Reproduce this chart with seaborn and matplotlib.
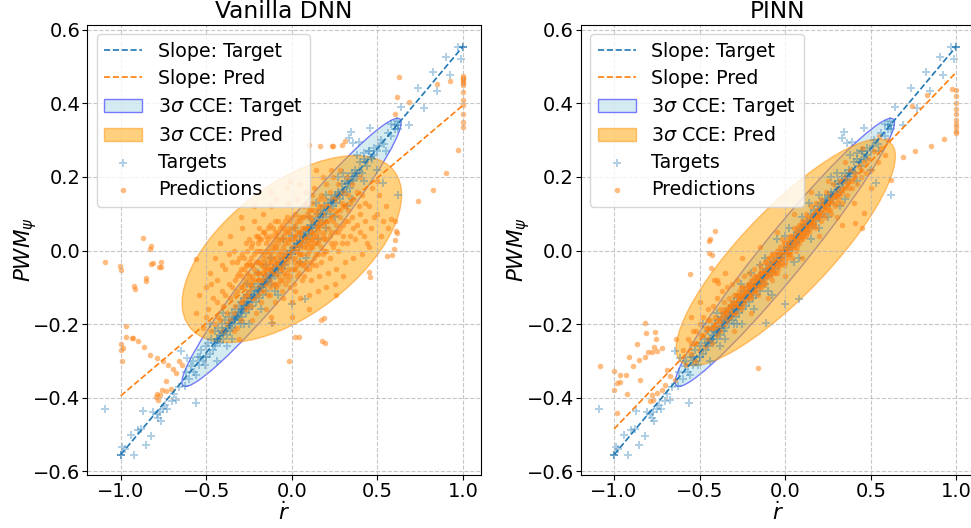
import numpy as np
import matplotlib
matplotlib.use("Agg")
import matplotlib.pyplot as plt
import seaborn as sns
from matplotlib.patches import Ellipse

# ---------------- data ----------------
titles = ["Vanilla DNN", "PINN"]
x_label = r"$\dot{r}$"
y_label = r"$PWM_\psi$"
x_ticks = [-1.0, -0.5, 0.0, 0.5, 1.0]
y_ticks = [-0.6, -0.4, -0.2, 0.0, 0.2, 0.4, 0.6]

# slope lines (y = slope * x over x in [-1, 1])
slope_x = [-1.0, 1.0]
slope_target = 0.555
slope_pred = [0.395, 0.485]          # DNN, PINN

# 3-sigma confidence ellipses: centre and 3-sigma extent matrix (sxx, syy, sxy)
ell_target = [-0.002, -0.005, 0.410, 0.1327, 0.2256]
ell_pred_dnn = [0.000, 0.004, 0.411, 0.0645, 0.094]
ell_pred_pinn = [0.003, -0.005, 0.410, 0.0949, 0.167]

# targets (same for both models)
targets = np.array([
    [-1.09, -0.43], [-1.0, -0.555], [-1.0, -0.555], [-1.0, -0.555], [-0.99, -0.534], [-0.975, -0.54],
    [-0.94, -0.50], [-0.92, -0.555], [-0.90, -0.489], [-0.88, -0.485], [-0.87, -0.435], [-0.854, -0.529],
    [-0.82, -0.503], [-0.81, -0.44], [-0.79, -0.445], [-0.78, -0.455], [-0.77, -0.44], [-0.766, -0.463],
    [-0.75, -0.43], [-0.74, -0.42], [-0.727, -0.431], [-0.70, -0.41], [-0.69, -0.39], [-0.675, -0.405],
    [-0.66, -0.37], [-0.645, -0.274], [-0.626, -0.368], [-0.56, -0.415],
    [1.0, 0.553], [1.0, 0.553], [1.0, 0.553], [0.97, 0.553], [0.988, 0.521], [0.902, 0.527],
    [0.922, 0.477], [0.822, 0.485], [0.848, 0.434], [0.734, 0.443], [0.77, 0.387], [0.639, 0.391],
    [0.686, 0.34], [0.614, 0.351], [0.345, 0.323], [0.331, 0.307], [0.36, 0.291], [0.39, 0.295],
    [0.458, 0.334], [0.42, 0.265], [0.45, 0.27], [0.48, 0.26], [0.532, 0.183], [0.618, 0.15],
    [0.078, -0.131], [0.0, -0.146], [-0.114, -0.196], [0.6, 0.33], [0.58, 0.345], [0.62, 0.34],
    [-0.538, -0.288], [-0.499, -0.288], [-0.614, -0.292], [-0.587, -0.315], [-0.558, -0.338], [-0.509, -0.311],
    [-0.62, -0.33], [-0.60, -0.35], [-0.58, -0.30], [-0.57, -0.33], [-0.55, -0.29], [-0.54, -0.31],
    [-0.53, -0.27], [-0.52, -0.30], [-0.50, -0.26], [-0.50, -0.29], [-0.49, -0.25], [-0.48, -0.28],
    [-0.47, -0.24], [-0.46, -0.27], [-0.45, -0.22], [-0.45, -0.26], [-0.44, -0.24], [-0.43, -0.21],
    [-0.42, -0.25], [-0.42, -0.23], [-0.41, -0.20], [-0.40, -0.24], [-0.40, -0.22], [-0.39, -0.19],
    [-0.38, -0.23], [-0.38, -0.21], [-0.37, -0.18], [-0.36, -0.22], [-0.36, -0.20], [-0.35, -0.17],
    [-0.35, -0.21], [-0.34, -0.19], [-0.33, -0.16], [-0.33, -0.20], [-0.32, -0.18], [-0.31, -0.15],
    [-0.31, -0.19], [-0.30, -0.17], [-0.30, -0.14], [-0.29, -0.18], [-0.28, -0.15], [-0.28, -0.13],
    [-0.27, -0.17], [-0.26, -0.14], [-0.26, -0.12], [-0.25, -0.16], [-0.24, -0.13], [-0.24, -0.11],
    [-0.23, -0.15], [-0.22, -0.12], [-0.22, -0.10], [-0.21, -0.14], [-0.20, -0.11], [-0.20, -0.09],
    [-0.19, -0.13], [-0.18, -0.10], [-0.17, -0.08], [-0.17, -0.12], [-0.16, -0.09], [-0.15, -0.07],
    [-0.15, -0.11], [-0.14, -0.08], [-0.13, -0.06], [-0.12, -0.09], [-0.11, -0.05], [-0.10, -0.07],
    [-0.09, -0.04], [-0.08, -0.06], [-0.07, -0.03], [-0.06, -0.05], [-0.05, -0.02], [-0.04, -0.04],
    [-0.03, -0.01], [-0.02, -0.02], [-0.01, 0.00], [0.00, -0.01], [0.01, 0.01], [0.02, 0.00],
    [0.03, 0.02], [0.04, 0.01], [0.05, 0.04], [0.06, 0.02], [0.07, 0.05], [0.08, 0.03],
    [0.09, 0.06], [0.10, 0.04], [0.11, 0.07], [0.12, 0.05], [0.13, 0.08], [0.14, 0.06],
    [0.15, 0.10], [0.16, 0.07], [0.17, 0.11], [0.18, 0.08], [0.19, 0.12], [0.20, 0.09],
    [0.21, 0.13], [0.22, 0.10], [0.23, 0.14], [0.24, 0.12], [0.25, 0.15], [0.26, 0.13],
    [0.27, 0.16], [0.28, 0.14], [0.29, 0.18], [0.30, 0.15], [0.31, 0.19], [0.32, 0.16],
    [0.33, 0.20], [0.34, 0.17], [0.35, 0.21], [0.36, 0.19], [0.37, 0.22], [0.38, 0.20],
    [0.40, 0.24], [0.41, 0.21], [0.42, 0.25], [0.44, 0.23], [0.45, 0.27], [0.47, 0.25],
    [0.48, 0.28], [0.50, 0.27], [0.52, 0.30], [0.54, 0.29], [0.56, 0.32], [0.58, 0.31],
    [0.60, 0.34], [0.62, 0.33],
    [-0.40, -0.17], [-0.30, -0.20], [-0.25, -0.20], [-0.20, -0.06], [-0.10, -0.11], [-0.05, 0.03],
    [0.05, -0.03], [0.10, 0.09], [0.15, 0.03], [0.20, 0.15], [0.25, 0.09], [0.30, 0.21],
    [0.35, 0.14], [0.00, 0.04], [-0.15, -0.04], [-0.35, -0.24],
    [-0.45, -0.25], [-0.43, -0.24], [-0.39, -0.22], [-0.37, -0.20], [-0.34, -0.185], [-0.32, -0.175],
    [-0.29, -0.16], [-0.27, -0.15], [-0.23, -0.125], [-0.21, -0.115], [-0.19, -0.105], [-0.16, -0.088],
    [-0.14, -0.078], [-0.12, -0.066], [-0.09, -0.05], [-0.06, -0.034], [0.03, 0.017], [0.07, 0.039],
    [0.12, 0.067], [0.16, 0.09], [0.19, 0.105], [0.23, 0.128], [0.26, 0.145], [0.29, 0.16],
    [0.33, 0.183], [0.36, 0.20], [0.39, 0.217], [0.43, 0.24], [0.46, 0.255], [0.51, 0.283],
    [-0.48, -0.20], [-0.44, -0.30], [-0.38, -0.26], [-0.28, -0.20], [-0.26, -0.09], [-0.18, -0.16],
    [-0.12, -0.02], [-0.08, -0.12], [0.02, 0.06], [0.08, -0.02], [0.14, 0.13], [0.20, 0.06],
    [0.27, 0.20], [0.32, 0.12], [0.38, 0.26], [0.42, 0.19], [0.50, 0.22], [0.55, 0.27],
    [-0.44, -0.245], [-0.41, -0.225], [-0.40, -0.225], [-0.37, -0.205], [-0.35, -0.195], [-0.33, -0.185],
    [-0.31, -0.17], [-0.30, -0.165], [-0.28, -0.155], [-0.26, -0.145], [-0.25, -0.14], [-0.24, -0.13],
    [-0.22, -0.125], [-0.20, -0.11], [-0.18, -0.10], [-0.17, -0.095], [-0.15, -0.085], [-0.13, -0.075],
    [-0.11, -0.06], [-0.10, -0.055], [-0.08, -0.045], [-0.05, -0.03], [-0.03, -0.02], [0.00, 0.00],
    [0.02, 0.01], [0.05, 0.025], [0.08, 0.045], [0.10, 0.055], [0.13, 0.07], [0.15, 0.085],
    [0.18, 0.10], [0.21, 0.115], [0.24, 0.135], [0.27, 0.15], [0.30, 0.165], [0.32, 0.18],
    [0.35, 0.195], [0.38, 0.21],
])

# predictions of the vanilla DNN
pred_dnn = np.array([
    [-0.56, -0.17], [-0.54, -0.12], [-0.52, -0.21], [-0.50, -0.10], [-0.49, -0.16], [-0.48, -0.06],
    [-0.47, -0.22], [-0.46, -0.13], [-0.44, -0.08], [-0.43, -0.18], [-0.45, -0.02], [-0.41, -0.11],
    [-0.40, -0.15], [-0.39, -0.05], [-0.38, -0.20], [-0.42, 0.02], [-0.37, -0.09], [-0.36, -0.13],
    [-0.35, -0.03], [-0.34, -0.17], [-0.33, -0.08], [-0.36, 0.04], [-0.32, -0.11], [-0.34, -0.22],
    [-0.31, -0.06], [-0.30, -0.14], [-0.29, -0.01], [-0.28, -0.09], [-0.30, -0.19], [-0.27, -0.04],
    [-0.29, 0.06], [-0.26, -0.12], [-0.31, -0.24], [-0.25, -0.07], [-0.24, -0.02], [-0.23, -0.10],
    [-0.25, 0.03], [-0.22, -0.05], [-0.24, -0.15], [-0.21, 0.00], [-0.23, -0.19], [-0.22, 0.08],
    [-0.26, -0.04], [-0.20, -0.08], [-0.19, -0.03], [-0.18, -0.11], [-0.20, 0.02], [-0.17, -0.06],
    [-0.19, 0.06], [-0.18, -0.14], [-0.16, -0.01], [-0.21, -0.17], [-0.17, 0.10], [-0.16, -0.09],
    [-0.15, -0.05], [-0.14, 0.00], [-0.13, -0.08], [-0.15, 0.04], [-0.12, -0.03], [-0.14, -0.12],
    [-0.13, 0.07], [-0.11, -0.06], [-0.15, -0.16], [-0.12, 0.12], [-0.11, 0.02], [-0.14, -0.02],
    [-0.10, -0.04], [-0.09, 0.01], [-0.08, -0.07], [-0.10, 0.05], [-0.07, -0.02], [-0.09, -0.10],
    [-0.08, 0.08], [-0.06, -0.05], [-0.10, -0.14], [-0.07, 0.03], [-0.09, 0.14], [-0.06, -0.11],
    [-0.08, -0.01], [-0.05, -0.03], [-0.04, 0.02], [-0.03, -0.06], [-0.05, 0.06], [-0.02, -0.01],
    [-0.04, -0.09], [-0.03, 0.09], [-0.01, 0.03], [-0.05, -0.13], [-0.02, 0.13], [-0.04, 0.00],
    [-0.01, -0.07], [-0.03, 0.17], [0.00, -0.02], [0.01, 0.03], [0.02, -0.05], [0.00, 0.06],
    [0.03, 0.00], [0.01, -0.09], [0.02, 0.10], [0.04, -0.03], [0.00, -0.14], [0.03, 0.14],
    [0.01, 0.01], [0.04, 0.05], [0.02, -0.11], [-0.01, 0.19], [0.05, -0.01], [0.06, 0.04],
    [0.07, -0.04], [0.05, 0.08], [0.08, 0.01], [0.06, -0.08], [0.07, 0.12], [0.09, -0.01],
    [0.05, -0.13], [0.08, 0.16], [0.06, 0.02], [0.09, 0.06], [0.10, 0.00], [0.11, 0.05],
    [0.12, -0.04], [0.10, 0.09], [0.13, 0.02], [0.11, -0.08], [0.12, 0.13], [0.14, -0.01],
    [0.10, -0.12], [0.13, 0.17], [0.11, 0.03], [0.14, 0.07], [0.15, 0.02], [0.16, 0.07],
    [0.17, -0.03], [0.15, 0.11], [0.18, 0.04], [0.16, -0.07], [0.17, 0.15], [0.19, 0.00],
    [0.15, -0.11], [0.18, 0.20], [0.20, 0.03], [0.21, 0.08], [0.22, -0.02], [0.20, 0.12],
    [0.23, 0.05], [0.21, -0.06], [0.22, 0.16], [0.24, 0.01], [0.20, -0.10], [0.23, 0.22],
    [0.25, 0.05], [0.26, 0.10], [0.27, 0.00], [0.25, 0.14], [0.28, 0.06], [0.26, -0.05],
    [0.27, 0.18], [0.29, 0.02], [0.25, -0.09], [0.30, 0.07], [0.31, 0.12], [0.32, 0.02],
    [0.30, 0.16], [0.33, 0.08], [0.31, -0.03], [0.32, 0.20], [0.34, 0.04], [0.30, -0.07],
    [0.35, 0.09], [0.36, 0.14], [0.37, 0.03], [0.35, 0.18], [0.38, 0.07], [0.36, -0.02],
    [0.39, 0.12], [0.40, 0.10], [0.41, 0.15], [0.42, 0.04], [0.40, 0.20], [0.43, 0.08],
    [0.41, -0.01], [0.45, 0.12], [0.46, 0.06], [0.47, 0.17], [0.45, 0.01], [0.50, 0.10],
    [0.51, 0.15], [0.52, 0.04], [0.50, 0.19], [0.55, 0.12], [0.56, 0.06],
    [-0.30, -0.10], [-0.28, -0.05], [-0.27, -0.12], [-0.26, 0.00], [-0.25, -0.09], [-0.24, -0.04],
    [-0.23, 0.02], [-0.23, -0.07], [-0.22, -0.13], [-0.21, -0.03], [-0.20, -0.06], [-0.20, 0.04],
    [-0.19, -0.10], [-0.19, 0.00], [-0.18, -0.04], [-0.18, 0.03], [-0.17, -0.08], [-0.17, -0.02],
    [-0.16, 0.05], [-0.16, -0.05], [-0.15, -0.09], [-0.15, 0.00], [-0.14, -0.05], [-0.14, 0.03],
    [-0.13, -0.03], [-0.13, -0.10], [-0.12, 0.01], [-0.12, -0.06], [-0.11, 0.06], [-0.11, -0.02],
    [-0.10, -0.09], [-0.10, 0.01], [-0.09, -0.03], [-0.09, 0.04], [-0.08, -0.04], [-0.08, 0.02],
    [-0.07, -0.08], [-0.07, 0.06], [-0.06, -0.01], [-0.06, 0.03], [-0.05, -0.06], [-0.05, 0.01],
    [-0.04, 0.05], [-0.04, -0.02], [-0.03, -0.03], [-0.03, 0.03], [-0.02, -0.08], [-0.02, 0.06],
    [-0.01, -0.01], [-0.01, 0.08], [0.00, -0.05], [0.00, 0.03], [0.01, -0.03], [0.01, 0.06],
    [0.02, 0.00], [0.02, 0.04], [0.03, -0.07], [0.03, 0.08], [0.04, 0.02], [0.04, -0.01],
    [0.05, 0.05], [0.05, 0.01], [0.06, -0.04], [0.06, 0.09], [0.07, 0.01], [0.07, 0.06],
    [0.08, -0.03], [0.08, 0.04], [0.09, 0.10], [0.09, 0.02], [0.10, -0.05], [0.10, 0.06],
    [0.11, 0.01], [0.11, 0.11], [0.12, 0.03], [0.12, 0.08], [0.13, -0.02], [0.13, 0.05],
    [0.14, 0.10], [0.14, 0.02], [0.15, 0.06], [0.16, 0.12], [0.16, 0.03], [0.17, 0.08],
    [0.18, -0.01], [0.18, 0.10], [0.19, 0.05], [0.20, 0.08], [0.21, 0.12], [0.22, 0.04],
    [0.23, 0.09], [0.24, 0.14], [0.25, 0.02], [0.26, 0.07], [0.28, 0.11], [0.30, 0.04],
    [-0.45, -0.20], [-0.42, -0.19], [-0.40, -0.22], [-0.38, -0.17], [-0.36, -0.19], [-0.33, -0.15],
    [-0.32, -0.21], [-0.29, -0.14], [-0.27, -0.16], [0.20, 0.18], [0.24, 0.20], [0.27, 0.15],
    [0.30, 0.12], [0.33, 0.15], [0.28, 0.22],
    [-0.33, -0.12], [-0.32, -0.07], [-0.31, -0.02], [-0.30, -0.05], [-0.29, -0.10], [-0.29, -0.07],
    [-0.28, -0.02], [-0.28, -0.13], [-0.27, -0.08], [-0.27, 0.02], [-0.26, -0.06], [-0.26, -0.15],
    [-0.25, -0.03], [-0.25, -0.11], [-0.24, -0.08], [-0.24, 0.01], [-0.23, -0.04], [-0.23, -0.13],
    [-0.22, -0.01], [-0.22, -0.08], [-0.21, -0.06], [-0.21, 0.04], [-0.20, -0.12], [-0.20, -0.03],
    [-0.19, -0.06], [-0.19, 0.03], [-0.18, -0.08], [-0.18, 0.00], [-0.17, -0.04], [-0.17, 0.05],
    [-0.16, -0.11], [-0.16, -0.03], [-0.15, -0.07], [-0.15, 0.02], [-0.14, -0.04], [-0.14, 0.06],
    [-0.13, -0.01], [-0.13, -0.12], [-0.12, -0.05], [-0.12, 0.04], [-0.11, -0.09], [-0.11, 0.00],
    [-0.10, -0.02], [-0.10, 0.08], [-0.09, -0.06], [-0.09, 0.03], [-0.08, -0.09], [-0.08, 0.05],
    [-0.07, -0.05], [-0.07, 0.00], [-0.06, -0.08], [-0.06, 0.07], [-0.05, -0.04], [-0.05, 0.04],
    [-0.04, -0.07], [-0.04, 0.08], [-0.03, -0.02], [-0.03, 0.05], [-0.02, -0.05], [-0.02, 0.02],
    [-0.01, -0.10], [-0.01, 0.05], [0.00, 0.01], [0.00, 0.09], [0.01, -0.05], [0.01, 0.04],
    [0.02, -0.02], [0.02, 0.07], [0.03, -0.04], [0.03, 0.05], [0.04, -0.06], [0.04, 0.09],
    [0.05, -0.03], [0.05, 0.03], [0.06, 0.06], [0.06, -0.01], [0.07, -0.07], [0.07, 0.09],
    [0.08, 0.06], [0.08, -0.05], [0.09, 0.03], [0.09, 0.13], [0.10, 0.02], [0.10, 0.11],
    [0.11, -0.03], [0.11, 0.09], [0.12, 0.01], [0.12, 0.15], [0.13, 0.04], [0.13, 0.11],
    [0.14, -0.04], [0.14, 0.04], [0.15, 0.08], [0.15, -0.01], [0.16, 0.05], [0.16, 0.14],
    [0.17, 0.01], [0.17, 0.12], [0.18, 0.07], [0.19, 0.03], [0.19, 0.14], [0.20, 0.00],
    [0.21, 0.06], [0.22, 0.11], [0.23, 0.02], [0.24, 0.08], [0.25, 0.11], [0.27, 0.05],
    [0.28, 0.09], [0.29, 0.13], [0.31, 0.08], [0.33, 0.11],
    [-0.50, -0.18], [-0.47, -0.09], [-0.44, -0.14], [-0.41, -0.04], [-0.39, -0.12], [-0.37, -0.01],
    [-0.35, -0.10], [-0.34, 0.00], [-0.32, -0.03], [0.34, 0.13], [0.36, 0.06], [0.38, 0.16],
    [0.40, 0.05], [0.43, 0.13], [0.44, 0.02], [0.48, 0.09], [0.53, 0.08], [-0.30, 0.09],
    [-0.22, 0.12], [-0.12, 0.16], [0.05, 0.18], [0.14, 0.22], [0.00, -0.18], [-0.12, -0.18],
    [0.10, -0.16], [0.26, -0.12],
    [-0.87, 0.034], [-0.827, 0.004], [-0.825, 0.011], [-1.09, -0.03], [-1.0, -0.052], [-1.004, -0.043],
    [-0.81, -0.034], [-0.82, -0.037], [-0.766, -0.032], [-0.776, -0.046], [-0.766, -0.044], [-0.854, -0.082],
    [-0.854, -0.074], [-0.918, -0.105], [-0.92, -0.096], [-0.558, -0.023], [-0.971, -0.206], [-0.971, -0.236],
    [-0.934, -0.238], [-0.928, -0.238], [-0.90, -0.245], [-1.0, -0.254], [-1.0, -0.27], [-0.987, -0.265],
    [-0.99, -0.30], [-0.864, -0.261], [-0.827, -0.283], [-0.786, -0.292], [-0.753, -0.30], [-0.723, -0.312],
    [-0.694, -0.322], [-0.661, -0.299], [-0.64, -0.312], [-0.737, -0.354], [-0.675, -0.333], [-0.792, -0.397],
    [-0.77, -0.392], [-0.76, -0.38], [-0.737, -0.382], [-0.706, -0.377], [-0.782, -0.405], [-0.785, -0.39],
    [0.624, 0.471], [0.617, 0.418], [0.686, 0.405], [0.60, 0.371], [0.243, 0.283], [0.312, 0.298],
    [0.848, 0.452], [0.922, 0.462], [1.0, 0.475], [1.0, 0.47], [1.0, 0.465], [1.0, 0.46],
    [1.0, 0.455], [1.0, 0.45], [1.0, 0.43], [1.0, 0.41], [1.0, 0.395], [1.0, 0.37],
    [1.0, 0.35], [1.0, 0.335], [0.968, 0.274], [0.902, 0.21], [0.822, 0.165], [0.734, 0.135],
    [0.604, 0.079], [0.608, 0.052], [0.604, 0.029], [0.594, 0.005], [0.58, 0.086], [0.614, 0.047],
    [0.556, -0.016], [0.585, -0.012], [0.452, -0.057], [0.458, -0.071], [0.185, -0.184], [0.168, -0.188],
    [0.175, -0.247], [0.195, -0.25], [0.019, -0.235], [0.043, -0.234], [-0.016, -0.30], [-0.117, -0.196],
    [0.103, 0.287], [0.165, 0.283], [0.237, 0.285], [0.292, 0.286],
])

# predictions of the PINN
pred_pinn = np.array([
    [-0.60, -0.27], [-0.58, -0.31], [-0.57, -0.24], [-0.55, -0.28], [-0.54, -0.22], [-0.53, -0.30],
    [-0.52, -0.25], [-0.50, -0.20], [-0.50, -0.27], [-0.49, -0.23], [-0.48, -0.18], [-0.47, -0.26],
    [-0.46, -0.21], [-0.45, -0.16], [-0.45, -0.24], [-0.44, -0.19], [-0.43, -0.25], [-0.42, -0.15],
    [-0.42, -0.21], [-0.41, -0.18], [-0.40, -0.23], [-0.40, -0.13], [-0.39, -0.19], [-0.38, -0.16],
    [-0.38, -0.22], [-0.37, -0.11], [-0.36, -0.18], [-0.36, -0.14], [-0.35, -0.20], [-0.34, -0.16],
    [-0.34, -0.10], [-0.33, -0.13], [-0.32, -0.18], [-0.32, -0.15], [-0.31, -0.09], [-0.30, -0.14],
    [-0.30, -0.17], [-0.29, -0.12], [-0.28, -0.15], [-0.28, -0.08], [-0.27, -0.13], [-0.26, -0.16],
    [-0.26, -0.10], [-0.25, -0.12], [-0.24, -0.07], [-0.24, -0.14], [-0.23, -0.11], [-0.22, -0.09],
    [-0.22, -0.13], [-0.21, -0.06], [-0.20, -0.10], [-0.20, -0.12], [-0.19, -0.08], [-0.18, -0.11],
    [-0.18, -0.05], [-0.17, -0.09], [-0.16, -0.07], [-0.16, -0.12], [-0.15, -0.04], [-0.15, -0.08],
    [-0.14, -0.10], [-0.13, -0.06], [-0.12, -0.03], [-0.12, -0.08], [-0.11, -0.05], [-0.10, -0.07],
    [-0.10, -0.02], [-0.09, -0.05], [-0.08, -0.08], [-0.08, -0.01], [-0.07, -0.04], [-0.06, -0.02],
    [-0.06, -0.06], [-0.05, 0.00], [-0.04, -0.03], [-0.04, -0.05], [-0.03, 0.01], [-0.02, -0.02],
    [-0.02, 0.03], [-0.01, -0.04], [0.00, 0.00], [0.00, 0.02], [0.01, -0.02], [0.02, 0.02],
    [0.03, 0.04], [0.03, -0.01], [0.04, 0.01], [0.05, 0.03], [0.05, 0.06], [0.06, 0.00],
    [0.07, 0.04], [0.08, 0.02], [0.08, 0.07], [0.09, 0.05], [0.10, 0.03], [0.10, 0.08],
    [0.11, 0.06], [0.12, 0.04], [0.12, 0.10], [0.13, 0.07], [0.14, 0.05], [0.15, 0.09],
    [0.15, 0.12], [0.16, 0.07], [0.17, 0.10], [0.18, 0.06], [0.18, 0.13], [0.19, 0.09],
    [0.20, 0.11], [0.21, 0.08], [0.21, 0.14], [0.22, 0.12], [0.23, 0.09], [0.24, 0.13],
    [0.24, 0.16], [0.25, 0.11], [0.26, 0.14], [0.27, 0.10], [0.28, 0.15], [0.28, 0.18],
    [0.29, 0.12], [0.30, 0.16], [0.31, 0.14], [0.32, 0.19], [0.33, 0.13], [0.34, 0.17],
    [0.35, 0.20], [0.36, 0.15], [0.37, 0.19], [0.38, 0.22], [0.39, 0.17], [0.40, 0.20],
    [0.42, 0.18], [0.43, 0.23], [0.44, 0.20], [0.46, 0.24], [0.47, 0.21], [0.49, 0.25],
    [0.50, 0.22], [0.52, 0.27], [0.54, 0.24], [0.56, 0.28], [0.58, 0.26], [0.60, 0.30],
    [-0.50, -0.14], [-0.40, -0.08], [-0.35, -0.06], [-0.30, -0.22], [-0.25, -0.02], [-0.20, -0.17],
    [-0.15, 0.01], [-0.10, -0.13], [-0.05, 0.05], [0.00, -0.07], [0.05, 0.10], [0.10, -0.02],
    [0.15, 0.16], [0.20, 0.04], [0.25, 0.19], [0.30, 0.09], [0.35, 0.24], [0.40, 0.13],
    [0.45, 0.28], [0.50, 0.17], [-0.55, -0.18], [0.55, 0.31],
    [-0.35, -0.17], [-0.34, -0.19], [-0.33, -0.15], [-0.32, -0.16], [-0.31, -0.17], [-0.30, -0.15],
    [-0.29, -0.15], [-0.28, -0.12], [-0.27, -0.15], [-0.26, -0.13], [-0.25, -0.14], [-0.25, -0.10],
    [-0.24, -0.12], [-0.23, -0.13], [-0.22, -0.11], [-0.21, -0.10], [-0.21, -0.12], [-0.20, -0.08],
    [-0.19, -0.11], [-0.18, -0.09], [-0.17, -0.07], [-0.17, -0.11], [-0.16, -0.09], [-0.15, -0.06],
    [-0.14, -0.08], [-0.14, -0.05], [-0.13, -0.09], [-0.12, -0.06], [-0.11, -0.07], [-0.11, -0.03],
    [-0.10, -0.05], [-0.09, -0.07], [-0.09, -0.02], [-0.08, -0.05], [-0.07, -0.06], [-0.07, -0.01],
    [-0.06, -0.04], [-0.05, -0.03], [-0.05, -0.06], [-0.04, 0.00], [-0.03, -0.02], [-0.03, -0.04],
    [-0.02, 0.00], [-0.01, -0.01], [-0.01, 0.02], [0.00, -0.03], [0.01, 0.00], [0.01, 0.03],
    [0.02, -0.01], [0.03, 0.02], [0.04, 0.03], [0.04, -0.02], [0.05, 0.01], [0.06, 0.04],
    [0.06, 0.02], [0.07, 0.01], [0.07, 0.06], [0.08, 0.04], [0.09, 0.03], [0.09, 0.07],
    [0.10, 0.05], [0.11, 0.04], [0.11, 0.08], [0.12, 0.06], [0.13, 0.05], [0.13, 0.09],
    [0.14, 0.08], [0.15, 0.06], [0.16, 0.10], [0.17, 0.08], [0.18, 0.09], [0.19, 0.11],
    [0.20, 0.09], [0.21, 0.12], [0.22, 0.10], [0.23, 0.12], [0.25, 0.13], [0.26, 0.11],
    [0.27, 0.14], [0.29, 0.15], [0.30, 0.13], [0.31, 0.17], [0.33, 0.16], [0.35, 0.17],
    [0.37, 0.17], [-0.40, -0.20], [-0.38, -0.19], [-0.37, -0.20], [-0.45, -0.21], [-0.48, -0.23],
    [-0.52, -0.22], [-0.55, -0.25],
    [-0.45, -0.19], [-0.43, -0.21], [-0.41, -0.20], [-0.39, -0.21], [-0.37, -0.17], [-0.36, -0.16],
    [-0.34, -0.17], [-0.33, -0.18], [-0.31, -0.14], [-0.30, -0.12], [-0.29, -0.17], [-0.28, -0.14],
    [-0.27, -0.11], [-0.26, -0.12], [-0.25, -0.15], [-0.24, -0.11], [-0.23, -0.10], [-0.22, -0.12],
    [-0.21, -0.09], [-0.20, -0.13], [-0.19, -0.10], [-0.18, -0.07], [-0.17, -0.10], [-0.16, -0.08],
    [-0.15, -0.10], [-0.14, -0.06], [-0.13, -0.07], [-0.12, -0.09], [-0.11, -0.06], [-0.10, -0.04],
    [-0.09, -0.06], [-0.08, -0.03], [-0.07, -0.05], [-0.06, -0.03], [-0.05, -0.01], [-0.04, -0.04],
    [-0.03, -0.01], [-0.02, -0.03], [-0.01, 0.00], [0.00, 0.01], [0.01, -0.01], [0.02, 0.01],
    [0.03, 0.00], [0.04, 0.04], [0.05, 0.02], [0.06, 0.05], [0.07, 0.03], [0.08, 0.05],
    [0.09, 0.04], [0.10, 0.06], [0.11, 0.05], [0.12, 0.07], [0.13, 0.06], [0.14, 0.07],
    [0.15, 0.08], [0.16, 0.09], [0.17, 0.07], [0.18, 0.11], [0.19, 0.10], [0.20, 0.10],
    [0.22, 0.13], [0.23, 0.11], [0.25, 0.12], [0.26, 0.15], [0.28, 0.13], [0.30, 0.15],
    [0.32, 0.15], [0.34, 0.19], [0.36, 0.18], [0.39, 0.19], [0.41, 0.21], [0.44, 0.22],
    [-0.409, 0.054], [-0.448, 0.025], [-0.448, -0.007], [-0.433, -0.048], [-0.556, -0.063], [-0.419, -0.08],
    [-0.39, -0.089], [-0.819, -0.197], [-0.813, -0.225], [-0.76, -0.222], [-0.756, -0.24], [-0.766, -0.261],
    [-0.721, -0.265], [-0.863, -0.254], [-0.80, -0.277], [-0.776, -0.277], [-0.751, -0.274], [-0.91, -0.29],
    [-0.857, -0.297], [-0.822, -0.29], [-0.89, -0.315], [-1.082, -0.313], [-1.0, -0.327], [-1.0, -0.379],
    [-0.965, -0.338], [-0.93, -0.338], [-0.98, -0.36], [-0.965, -0.356], [-0.848, -0.351], [-0.922, -0.389],
    [-0.985, -0.442], [-0.692, -0.324], [-0.672, -0.342], [-0.643, -0.351], [-0.702, -0.365], [-0.721, -0.378],
    [-0.751, -0.387], [-0.78, -0.392], [-0.79, -0.41], [-0.77, -0.406], [-0.639, -0.241], [-0.161, -0.32],
    [-0.439, 0.031], [-0.429, -0.012],
    [1.0, 0.437], [1.0, 0.42], [1.0, 0.40], [1.0, 0.385], [1.0, 0.37], [1.0, 0.355],
    [1.0, 0.345], [1.0, 0.335], [1.0, 0.325], [1.0, 0.32], [0.975, 0.439], [0.828, 0.423],
    [0.74, 0.393], [0.852, 0.283], [0.93, 0.304], [0.756, 0.271], [0.688, 0.254], [0.62, 0.192],
    [0.458, 0.102], [0.409, 0.074], [0.448, 0.061], [0.332, 0.07],
])

# ---------------- drawing ----------------
plt.rcParams["font.family"] = ["DejaVu Sans"]
TICK_FS = 14
LEG_FS = 13.7
LABEL_FS = 15.5
TITLE_FS = 16.8


def make_ellipse(params, **kw):
    cx, cy, sxx, syy, sxy = params
    vals, vecs = np.linalg.eigh(np.array([[sxx, sxy], [sxy, syy]]))
    major = vecs[:, 1]
    angle = np.degrees(np.arctan2(major[1], major[0]))
    return Ellipse((cx, cy), 2 * np.sqrt(vals[1]), 2 * np.sqrt(vals[0]), angle=angle, **kw)


def draw_panel(ax, pred, sp, ell_pred, title):
    xs = np.array(slope_x)
    sns.lineplot(x=xs, y=slope_target * xs, ax=ax, color="C0", linestyle="--",
                 linewidth=1.2, label="Slope: Target", legend=False)
    sns.lineplot(x=xs, y=sp * xs, ax=ax, color="C1", linestyle="--",
                 linewidth=1.2, label="Slope: Pred", legend=False)
    ax.add_patch(make_ellipse(ell_target, facecolor="lightblue", edgecolor="blue",
                              alpha=0.5, linewidth=1.0, label=r"3$\sigma$ CCE: Target"))
    ax.add_patch(make_ellipse(ell_pred, facecolor="orange", edgecolor="darkorange",
                              alpha=0.5, linewidth=1.0, label=r"3$\sigma$ CCE: Pred"))
    sns.scatterplot(x=targets[:, 0], y=targets[:, 1], ax=ax, marker="+", color="C0",
                    alpha=0.35, s=38, linewidth=1.4, label="Targets", legend=False)
    sns.scatterplot(x=pred[:, 0], y=pred[:, 1], ax=ax, marker="o", color="C1",
                    alpha=0.52, s=16, linewidth=0, label="Predictions", legend=False)
    ax.set_xlim(-1.195, 1.105)
    ax.set_ylim(-0.61, 0.613)
    ax.set_xticks(x_ticks)
    ax.set_yticks(y_ticks)
    ax.tick_params(labelsize=TICK_FS, pad=1.5)
    ax.grid(True, linestyle="--", alpha=0.7)
    ax.set_title(title, fontsize=TITLE_FS, pad=5)
    ax.set_xlabel(x_label, fontsize=LABEL_FS, labelpad=0)
    ax.set_ylabel(y_label, fontsize=LABEL_FS, labelpad=-4)
    ax.legend(loc="upper left", fontsize=LEG_FS, labelspacing=0.42)


fig = plt.figure(figsize=(9.71, 5.28), dpi=100)
ax1 = fig.add_axes([0.0899, 0.1004, 0.4055, 0.8523])
ax2 = fig.add_axes([0.598, 0.1004, 0.4055, 0.8523])
draw_panel(ax1, pred_dnn, slope_pred[0], ell_pred_dnn, titles[0])
draw_panel(ax2, pred_pinn, slope_pred[1], ell_pred_pinn, titles[1])
fig.savefig("out.png", dpi=100)
